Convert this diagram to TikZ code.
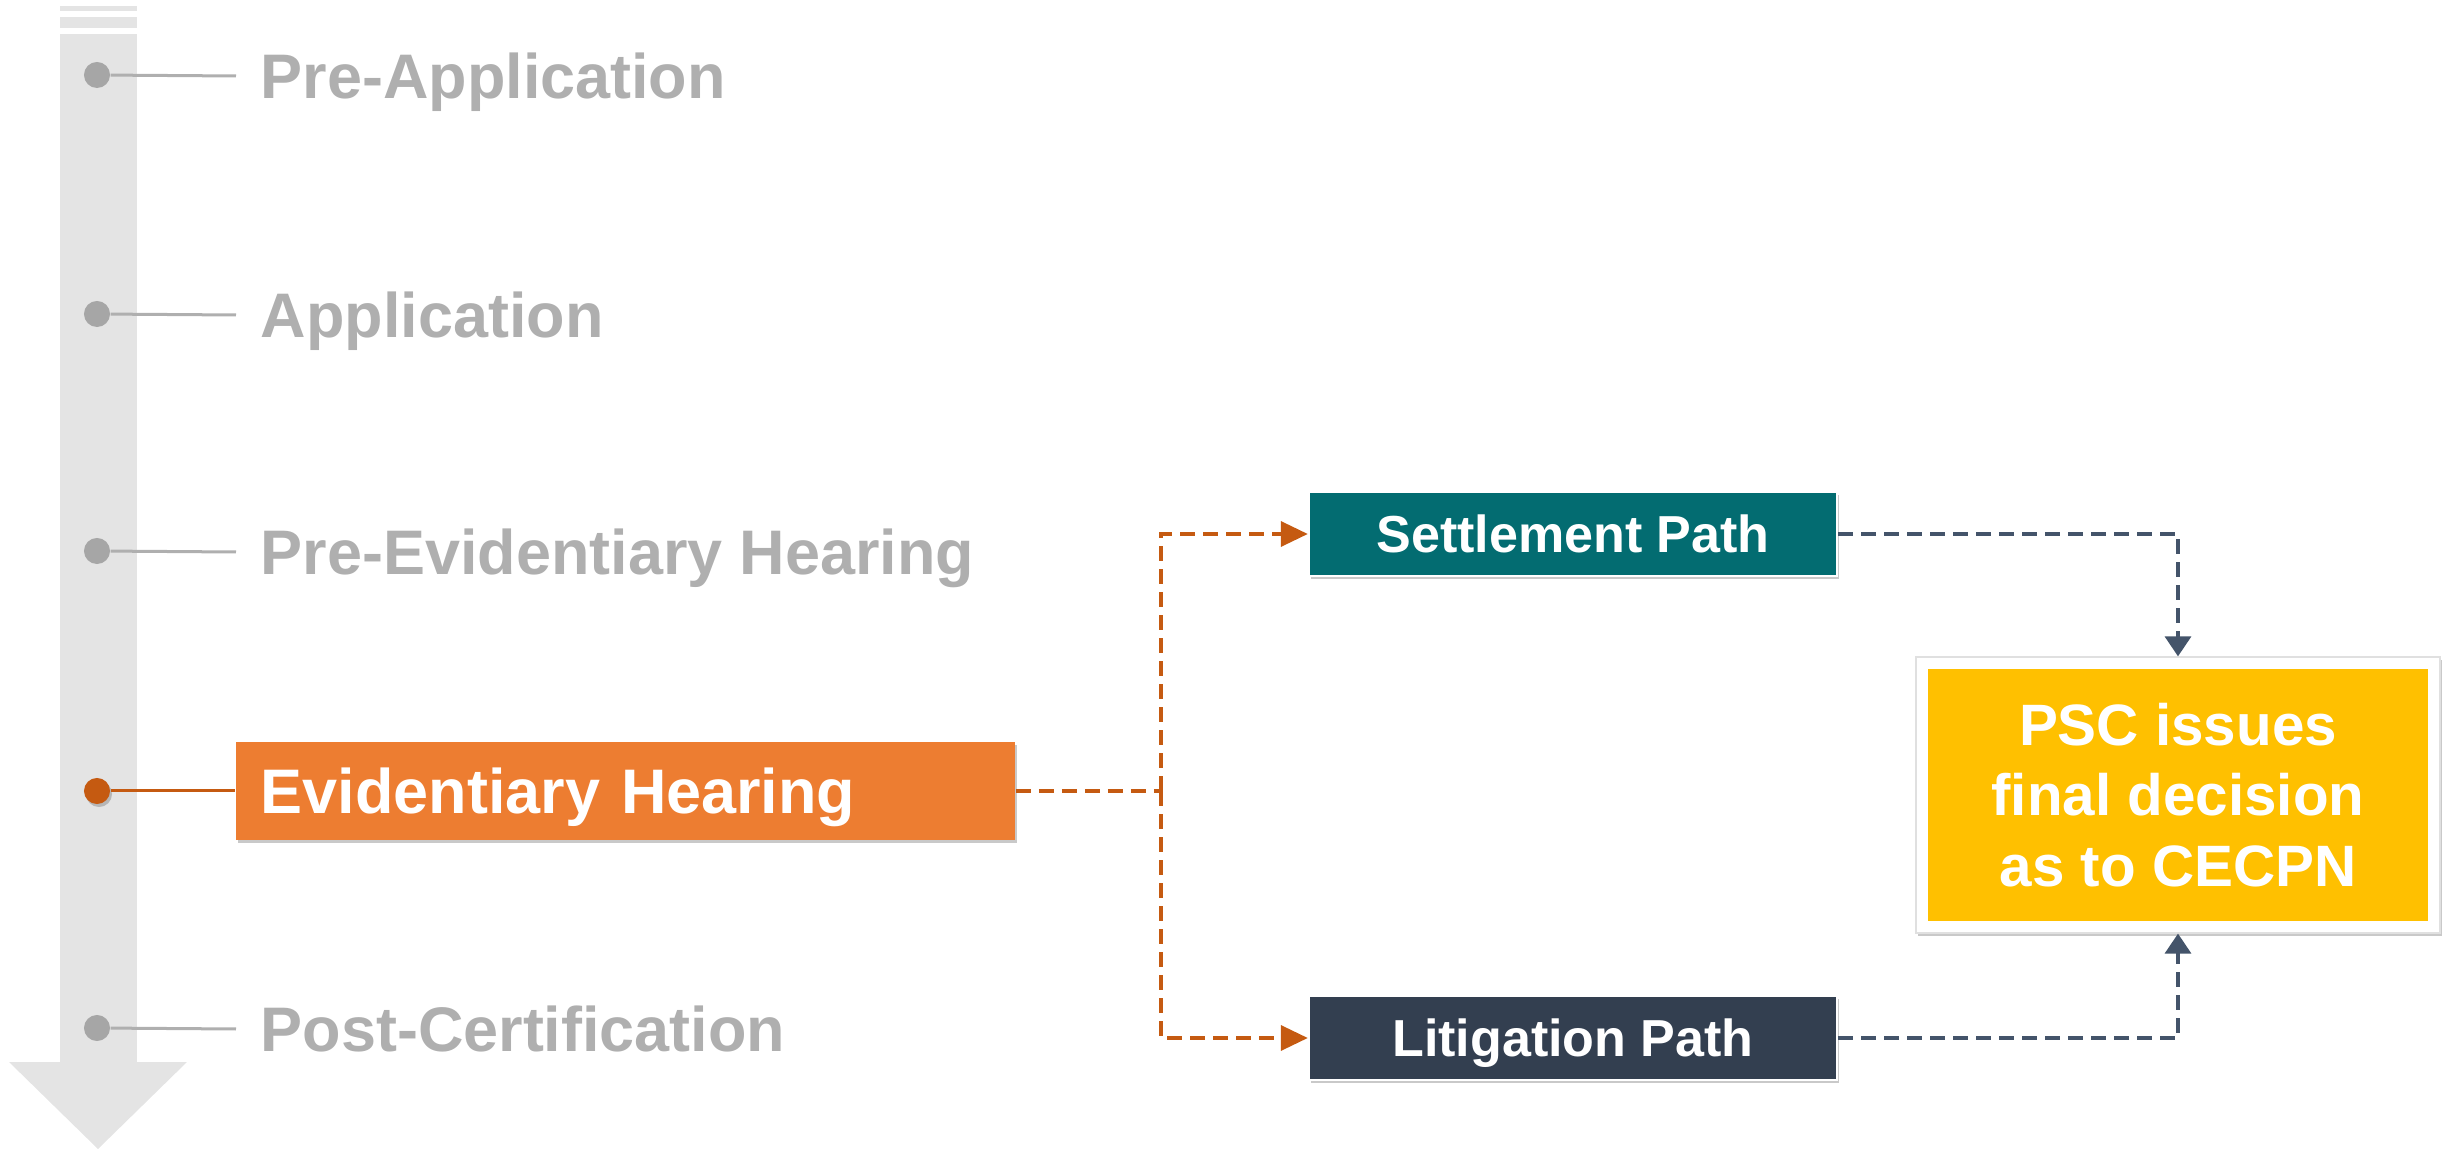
\documentclass[tikz,border=0pt]{standalone}
\usepackage{fontspec}
\setmainfont{Liberation Sans}
\usetikzlibrary{arrows.meta,shadows}

\definecolor{shaftgray}{HTML}{E4E4E4}
\definecolor{stagegray}{HTML}{AFAFAF}
\definecolor{dotgray}{HTML}{A6A6A6}
\definecolor{evidorange}{HTML}{ED7D31}
\definecolor{darkorange}{HTML}{C55A11}
\definecolor{settleteal}{HTML}{036C71}
\definecolor{litigslate}{HTML}{333F50}
\definecolor{decisiongold}{HTML}{FFC000}
\definecolor{linkslate}{HTML}{44546A}

\begin{document}
\begin{tikzpicture}[x=0.01cm, y=-0.01cm,
    stagedot/.style={circle, fill=dotgray, inner sep=0pt, minimum size=0.26cm},
    stagelabel/.style={anchor=west, inner xsep=0.24cm, inner ysep=0pt, text height=12.9pt, text depth=0pt,
        font=\fontsize{17.9}{21}\selectfont\bfseries, text=stagegray},
    stageline/.style={stagegray, line width=0.03cm},
    boxshadow/.style={drop shadow={shadow xshift=0.02cm, shadow yshift=-0.03cm, opacity=0.3, fill=black!70}},
    pathbox/.style={minimum width=5.28cm, minimum height=0.84cm, draw=white, line width=0.6pt, text=white,
        text height=10.7pt, text depth=0pt, font=\fontsize{14.8}{17}\selectfont\bfseries, boxshadow},
    orangelink/.style={darkorange, line width=0.035cm, dash pattern=on 0.15cm off 0.08cm},
    slatelink/.style={linkslate, line width=0.035cm, dash pattern=on 0.15cm off 0.08cm}]
    \useasboundingbox (0,0) rectangle (2453,1149);

    % timeline arrow
    \fill[shaftgray] (60,6) rectangle (137,11);
    \fill[shaftgray] (60,17) rectangle (137,28);
    \fill[shaftgray] (60,34) rectangle (137,1062);
    \fill[shaftgray] (9,1062) -- (187,1062) -- (98,1149) -- cycle;

    % stages
    \node[stagedot] (dotpre) at (97,75) {};
    \node[stagelabel] (preapp) at (236,76) {Pre-Application};
    \draw[stageline] (dotpre) -- (preapp.west);

    \node[stagedot] (dotapp) at (97,314) {};
    \node[stagelabel] (app) at (236,315) {Application};
    \draw[stageline] (dotapp) -- (app.west);

    \node[stagedot] (dotpreevid) at (97,551) {};
    \node[stagelabel] (preevid) at (236,552) {Pre-Evidentiary Hearing};
    \draw[stageline] (dotpreevid) -- (preevid.west);

    \node[stagedot] (dotpost) at (97,1028) {};
    \node[stagelabel] (postcert) at (236,1029) {Post-Certification};
    \draw[stageline] (dotpost) -- (postcert.west);

    \node[stagedot, fill=darkorange, boxshadow] (dotevid) at (97,791) {};
    \node[anchor=west, fill=evidorange, text=white, minimum height=0.98cm, text width=7.29cm,
        inner xsep=0.25cm, inner ysep=0pt, text height=12.9pt, text depth=0pt,
        font=\fontsize{17.9}{21}\selectfont\bfseries, boxshadow] (evid) at (235,791) {Evidentiary Hearing};
    \draw[darkorange, line width=0.03cm] (dotevid) -- (evid.west);

    % the two paths and the decision
    \node[pathbox, fill=settleteal] (settle) at (1573,534) {Settlement Path};
    \node[pathbox, fill=litigslate] (litig) at (1573,1038) {Litigation Path};

    \node[fill=white, draw=black!12, line width=0.6pt, minimum width=5.24cm, minimum height=2.75cm,
        path picture={\fill[decisiongold] ([shift={(0.12cm,0.12cm)}]path picture bounding box.south west)
            rectangle ([shift={(-0.12cm,-0.12cm)}]path picture bounding box.north east);},
        align=center, text=white, font=\fontsize{16.6}{20.1}\selectfont\bfseries, boxshadow] (psc) at (2178,795)
        {PSC issues\\final decision\\as to CECPN};

    % links
    \coordinate (split) at (1161,791);
    \draw[orangelink] (evid.east) -- (split);
    \draw[orangelink, -{Triangle[length=0.27cm, width=0.25cm]}] (split) |- (settle.west);
    \draw[orangelink, -{Triangle[length=0.27cm, width=0.25cm]}] (split) |- (litig.west);
    \draw[slatelink, -{Triangle[length=0.2cm, width=0.26cm]}] (settle.east) -| (psc.north);
    \draw[slatelink, -{Triangle[length=0.2cm, width=0.26cm]}] (litig.east) -| (psc.south);
\end{tikzpicture}
\end{document}
